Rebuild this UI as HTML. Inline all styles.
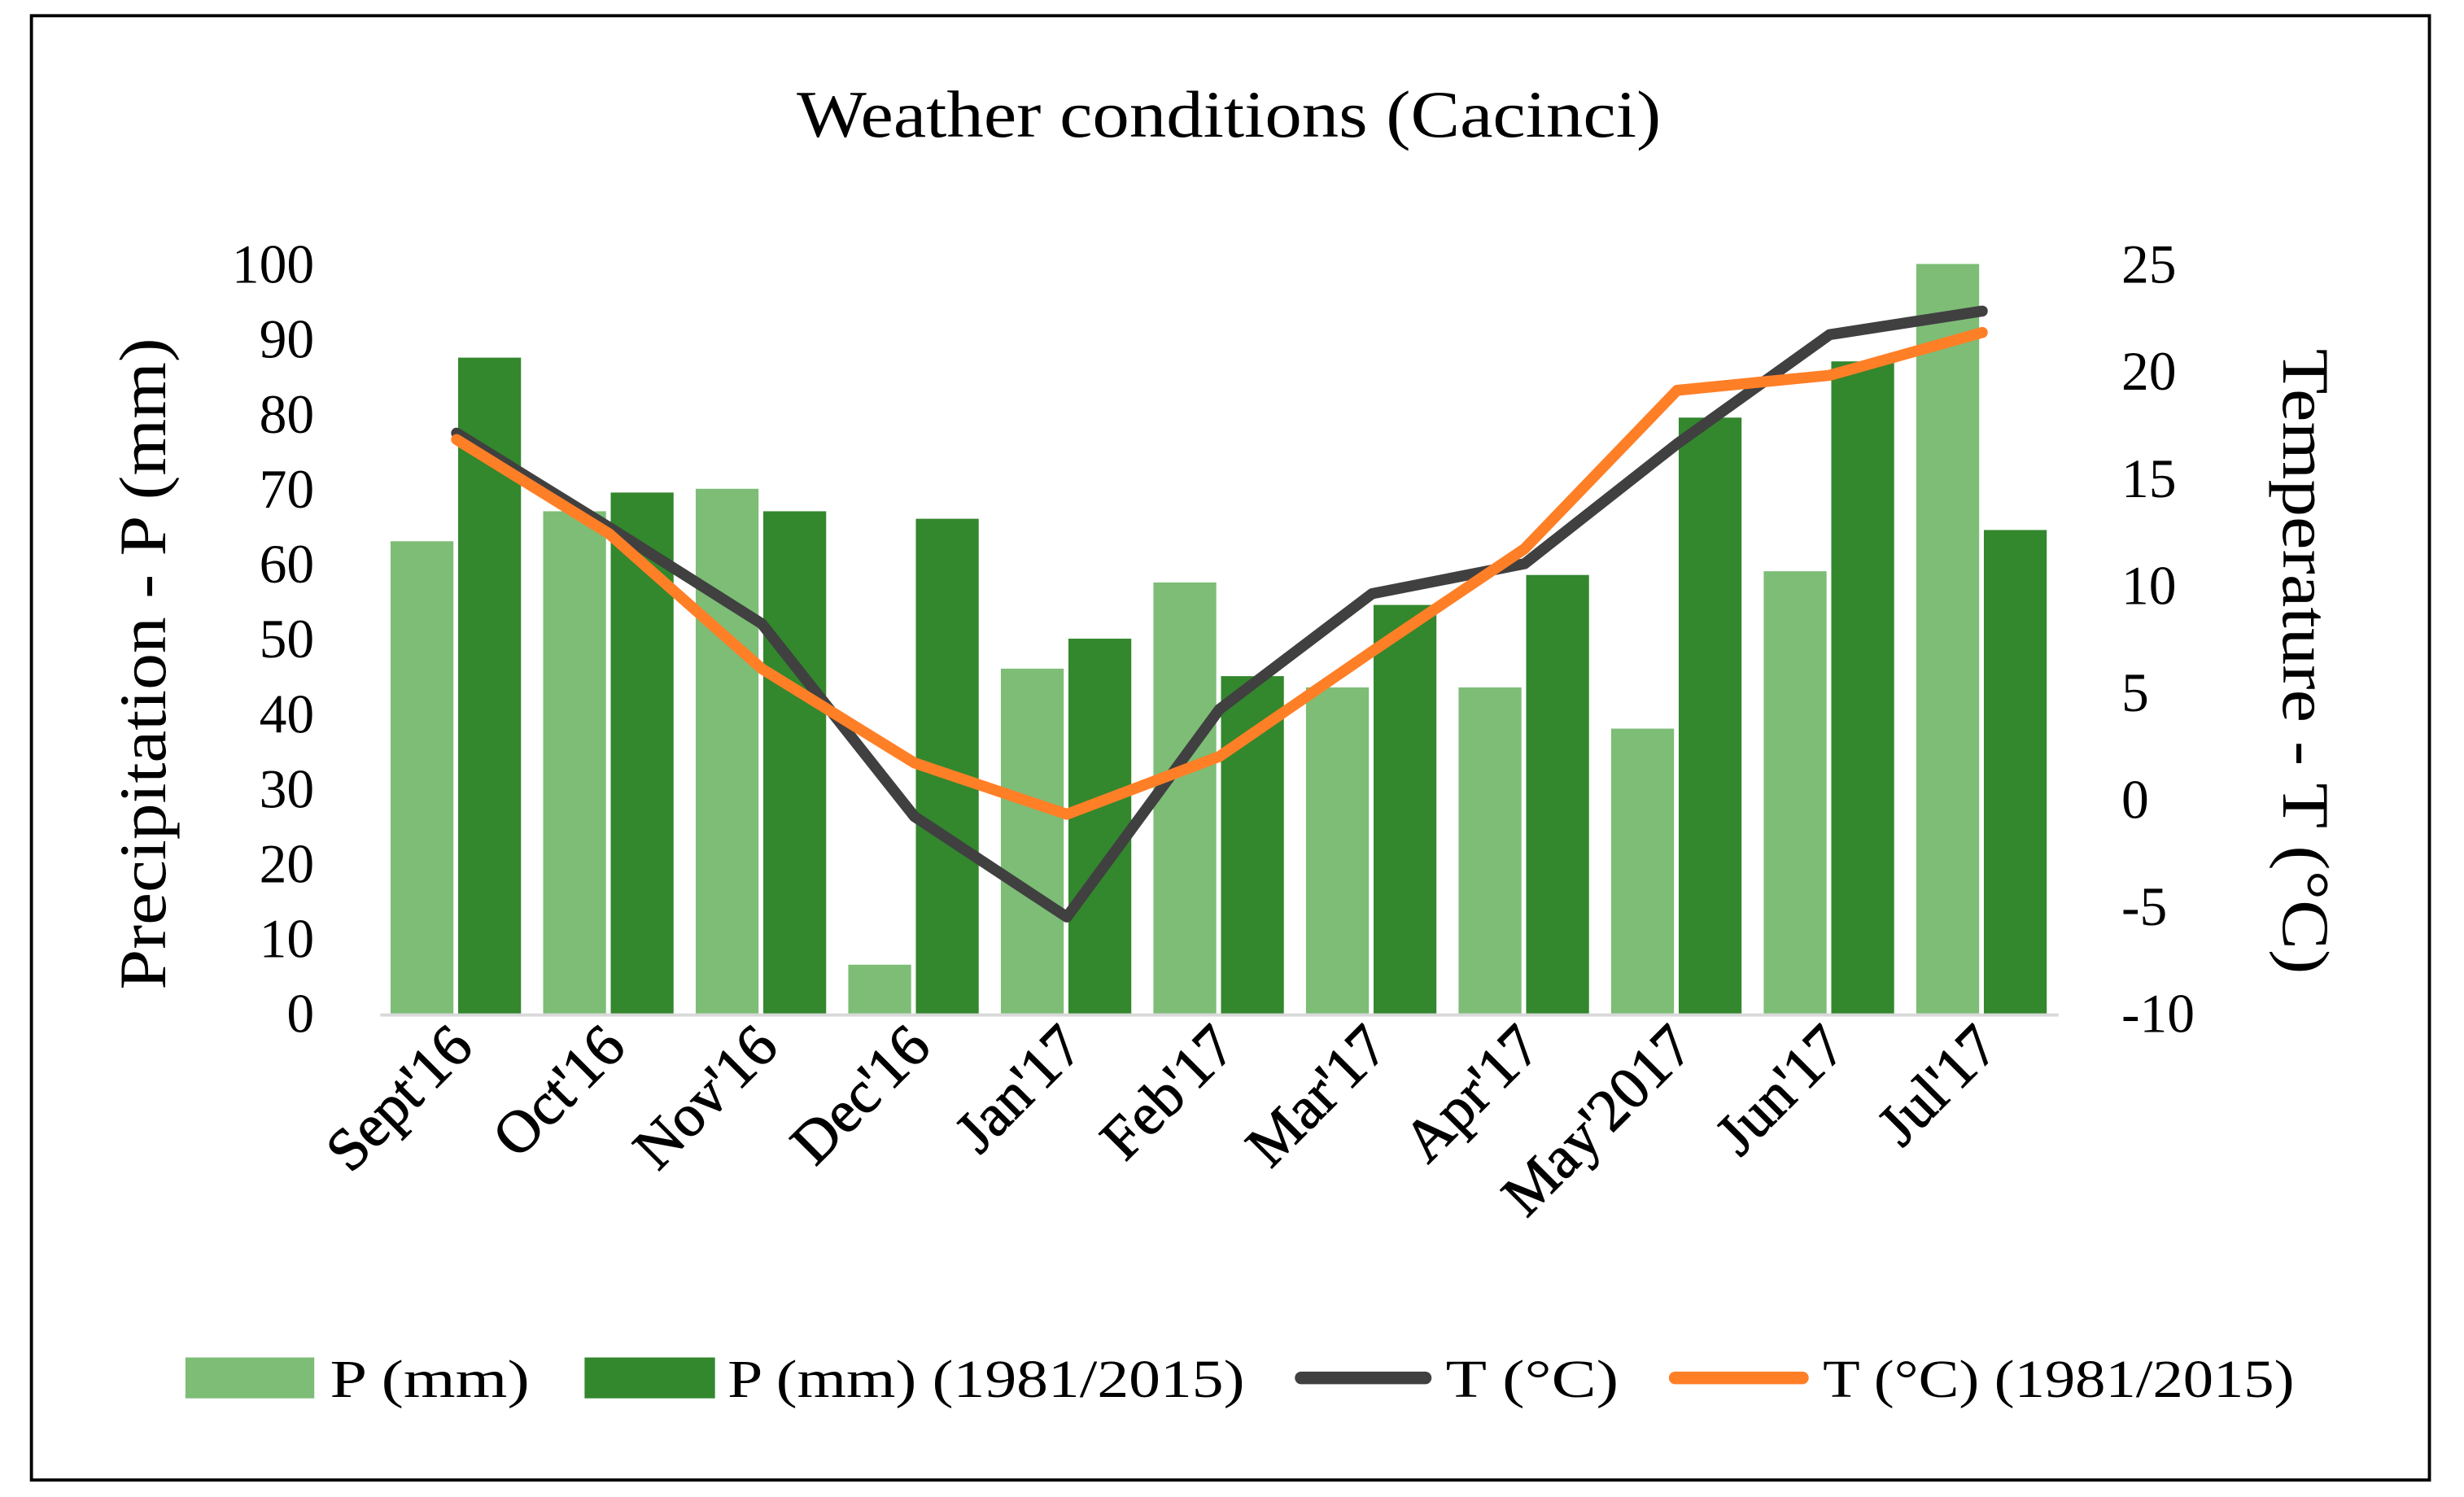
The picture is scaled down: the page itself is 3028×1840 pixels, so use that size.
<!DOCTYPE html>
<html><head><meta charset="utf-8"><style>html,body{margin:0;padding:0;background:#fff}svg{display:block}</style></head>
<body>
<svg id="chart" width="3028" height="1840" viewBox="0 0 1568 952.8" xmlns="http://www.w3.org/2000/svg" font-family="'Liberation Serif', serif">
<rect x="20" y="10" width="1526" height="932" fill="#fff" stroke="#000" stroke-width="2"/>
<text x="507" y="87" font-size="42" textLength="550" lengthAdjust="spacingAndGlyphs">Weather conditions (Cacinci)</text>
<text transform="translate(105,630) rotate(-90)" font-size="42" textLength="415" lengthAdjust="spacingAndGlyphs">Precipitation - P (mm)</text>
<text transform="translate(1453,222) rotate(90)" font-size="42" textLength="398" lengthAdjust="spacingAndGlyphs">Temperature - T (°C)</text>
<g id="plot"></g>
<g>
<rect x="118" y="864" width="82" height="26" fill="#7DBD76"/>
<text x="210" y="889" font-size="34" textLength="127" lengthAdjust="spacingAndGlyphs">P (mm)</text>
<rect x="372" y="864" width="83" height="26" fill="#33872D"/>
<text x="463" y="889" font-size="34" textLength="329" lengthAdjust="spacingAndGlyphs">P (mm) (1981/2015)</text>
<line x1="828" y1="877" x2="907" y2="877" stroke="#404040" stroke-width="8" stroke-linecap="round"/>
<text x="920" y="889" font-size="34" textLength="110" lengthAdjust="spacingAndGlyphs">T  (°C)</text>
<line x1="1066" y1="877" x2="1147" y2="877" stroke="#FF7F27" stroke-width="8" stroke-linecap="round"/>
<text x="1160" y="889" font-size="34" textLength="300" lengthAdjust="spacingAndGlyphs">T (°C) (1981/2015)</text>
</g>
</svg>
<script>
const categories = ["Sept'16","Oct'16","Nov'16","Dec'16","Jan'17","Feb'17","Mar'17","Apr'17","May'2017","Jun'17","Jul'17"];
const precip = [63,67,70,6.5,46,57.5,43.5,43.5,38,59,100];
const precipNormal = [87.5,69.5,67,66,50,45,54.5,58.5,79.5,87,64.5];
const temp = [17.1,12.7,8.2,-0.8,-5.5,4.2,9.6,11,16.6,21.7,22.8];
const tempNormal = [16.8,12.4,6.1,1.7,-0.7,2,6.9,11.7,19.1,19.8,21.8];
const leftTicks = [0,10,20,30,40,50,60,70,80,90,100];
const rightTicks = [-10,-5,0,5,10,15,20,25];

const NS="http://www.w3.org/2000/svg";
const g=document.getElementById('plot');
const X0=242,X1=1310,YB=645,YT=168;
const bw=(X1-X0)/categories.length;
const yL=v=>YB-(v/100)*(YB-YT);
const yR=v=>YB-((v+10)/35)*(YB-YT);
const xc=i=>X0+bw*(i+0.5);
function mk(t,a){const e=document.createElementNS(NS,t);for(const k in a)e.setAttribute(k,a[k]);g.appendChild(e);return e;}
leftTicks.forEach(v=>{const t=mk('text',{x:200,y:yL(v)+12,'font-size':35,'text-anchor':'end'});t.textContent=v;

});
rightTicks.forEach(v=>{const t=mk('text',{x:1350,y:yR(v)+12,'font-size':35,'text-anchor':'start'});t.textContent=v;

});
const base=mk('line',{x1:X0,y1:YB+1,x2:X1,y2:YB+1,stroke:'#d9d9d9','stroke-width':2});


categories.forEach((c,i)=>{
  const cx=xc(i);
  const r1=mk('rect',{x:cx-42,y:yL(precip[i]),width:40,height:YB-yL(precip[i]),fill:'#7DBD76'});
  
  
  const r2=mk('rect',{x:cx+1,y:yL(precipNormal[i]),width:40,height:YB-yL(precipNormal[i]),fill:'#33872D'});
  
  
  const t=mk('text',{transform:`translate(${cx+12},${668}) rotate(-45)`,'font-size':38,'text-anchor':'end','stroke':'#000','stroke-width':0.6});
  t.textContent=c;
  
  
});
function line(arr,col,name){
  const p=mk('polyline',{points:arr.map((v,i)=>xc(i)+','+yR(v)).join(' '),fill:'none',stroke:col,'stroke-width':7,'stroke-linecap':'round','stroke-linejoin':'round'});
  
  
}
line(temp,'#404040','line-t');
line(tempNormal,'#FF7F27','line-t-normal');
</script>
</body></html>
